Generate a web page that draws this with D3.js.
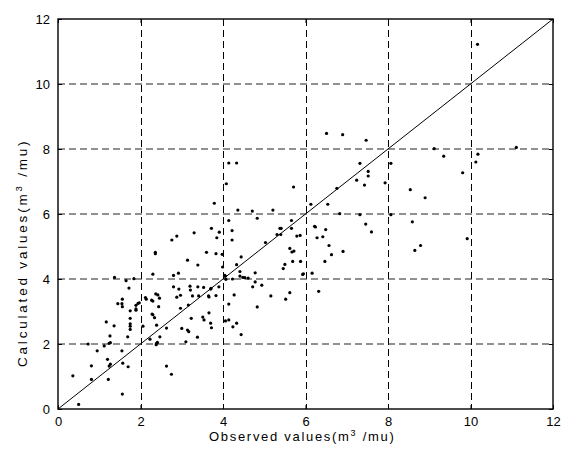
<!DOCTYPE html>
<html lang="en">
<head>
    <meta charset="UTF-8">
    <title>Observed vs calculated</title>
    <script src="https://d3js.org/d3.v7.min.js"></script>
    <style>
        body { margin: 0; background: #fff; }
        text { font-family: "Liberation Sans", Arial, sans-serif; fill: #000; }
    </style>
</head>
<body>
<script>
// tick values, same on both axes
const ticks = [0, 2, 4, 6, 8, 10, 12];

// observed (x) and calculated (y) values
const observed = [0.36,0.50,0.73,0.81,0.81,0.95,1.12,1.17,1.20,1.22,1.24,1.27,1.24,1.27,1.26,1.36,1.37,1.45,1.55,1.56,1.56,1.55,1.57,1.56,1.65,1.69,1.70,1.72,1.75,1.75,1.75,1.75,1.75,1.84,1.89,1.89,1.89,1.94,1.97,2.06,2.12,2.14,2.23,2.27,2.30,2.30,2.28,2.30,2.34,2.36,2.36,2.37,2.42,2.39,2.39,2.38,2.41,2.44,2.46,2.47,2.63,2.63,2.75,2.76,2.80,2.80,2.88,2.88,2.92,2.93,2.97,2.97,3.00,3.10,3.14,3.14,3.17,3.16,3.20,3.21,3.23,3.26,3.30,3.38,3.39,3.39,3.41,3.51,3.53,3.54,3.60,3.65,3.66,3.66,3.70,3.70,3.71,3.72,3.72,3.79,3.83,3.83,3.85,3.90,3.91,3.98,3.99,4.04,4.06,4.07,4.06,4.08,4.14,4.14,4.14,4.14,4.22,4.22,4.23,4.24,4.27,4.33,4.33,4.33,4.36,4.41,4.41,4.44,4.44,4.48,4.53,4.61,4.71,4.72,4.78,4.78,4.83,4.83,4.94,5.03,5.16,5.21,5.31,5.38,5.40,5.41,5.46,5.50,5.52,5.62,5.62,5.66,5.66,5.67,5.69,5.71,5.72,5.79,5.87,5.88,5.93,5.95,6.13,6.16,6.22,6.24,6.28,6.32,6.42,6.47,6.49,6.51,6.54,6.57,6.63,6.76,6.83,6.90,6.91,7.24,7.32,7.32,7.43,7.46,7.47,7.52,7.52,7.60,7.93,8.07,8.07,8.54,8.59,8.65,8.79,8.90,9.12,9.35,9.81,9.92,10.13,10.18,10.17,11.11];
const calculated = [1.02,0.14,2.00,1.33,0.91,1.79,1.94,2.68,1.53,0.91,1.32,1.38,2.02,2.04,2.25,2.56,4.05,3.24,3.24,3.38,3.15,1.79,1.41,0.46,3.95,2.22,1.30,3.72,3.02,2.79,2.62,2.55,2.45,4.01,3.19,3.08,3.04,3.25,3.27,2.55,3.43,3.38,2.15,3.35,3.32,4.15,2.92,2.90,2.81,4.82,4.78,3.54,3.51,2.58,2.02,1.98,2.05,3.15,3.41,2.22,2.49,1.32,1.07,5.20,4.11,3.76,5.32,3.44,4.18,3.69,3.50,3.10,2.48,2.07,4.58,2.43,2.38,3.20,3.78,3.66,2.79,3.48,5.42,2.21,4.43,3.76,3.48,2.83,3.74,2.74,4.82,3.48,3.45,2.96,2.64,3.69,3.71,5.56,2.50,6.33,4.78,3.49,5.27,3.76,5.44,4.76,4.37,4.11,4.09,3.99,2.71,6.93,7.57,5.80,3.23,2.74,5.49,5.20,4.00,2.53,3.51,7.57,4.44,2.64,6.12,4.23,4.09,4.68,2.29,4.05,4.04,4.03,6.09,3.76,4.19,3.91,5.87,3.14,3.81,5.12,3.48,6.12,5.37,5.56,5.37,5.56,4.32,4.45,3.38,4.94,3.58,5.80,5.56,4.83,4.54,6.83,4.86,5.32,5.34,4.54,4.14,4.16,6.30,4.18,5.62,5.60,5.27,3.62,5.30,4.54,5.52,8.48,6.30,5.03,4.75,6.79,6.01,8.44,4.85,7.04,7.56,5.98,6.89,5.69,8.27,7.31,7.17,5.45,6.96,7.56,5.98,6.75,5.76,4.88,5.03,6.50,8.01,7.78,7.27,5.24,7.60,7.84,11.22,8.05];

// 1:1 reference line
const diagonal = [0, 12];

const W = 561, H = 456;
const margin = {top: 19, right: 8, bottom: 47, left: 58};
const width = W - margin.left - margin.right;
const height = H - margin.top - margin.bottom;

const svg = d3.select("body").append("svg")
    .attr("width", W)
    .attr("height", H);

const g = svg.append("g")
    .attr("transform", `translate(${margin.left},${margin.top})`);

const x = d3.scaleLinear().domain([0, 12]).range([0, width]);
const y = d3.scaleLinear().domain([0, 12]).range([height, 0]);

// grid (skip the box edges)
const inner = ticks.slice(1, -1);
g.selectAll(".vgrid").data(inner).enter().append("line")
    .attr("x1", d => Math.round(x(d)) + 0.5).attr("x2", d => Math.round(x(d)) + 0.5)
    .attr("y1", 0).attr("y2", height)
    .attr("stroke", "#000").attr("stroke-width", 1)
    .attr("stroke-dasharray", "7,4");
g.selectAll(".hgrid").data(inner).enter().append("line")
    .attr("x1", 0).attr("x2", width)
    .attr("y1", d => y(d)).attr("y2", d => y(d))
    .attr("stroke", "#222").attr("stroke-width", 1)
    .attr("stroke-dasharray", "7,4");

// diagonal
g.append("line")
    .attr("x1", x(diagonal[0])).attr("y1", y(diagonal[0]))
    .attr("x2", x(diagonal[1])).attr("y2", y(diagonal[1]))
    .attr("stroke", "#000").attr("stroke-width", 1);

// points
g.selectAll(".dot").data(observed).enter().append("circle")
    .attr("class", "dot")
    .attr("cx", d => x(d))
    .attr("cy", (d, i) => y(calculated[i]))
    .attr("r", 1.6)
    .attr("fill", "#000");

// box
g.append("rect")
    .attr("x", 0).attr("y", 0)
    .attr("width", width).attr("height", height)
    .attr("fill", "none").attr("stroke", "#000").attr("stroke-width", 1.4);

// axes with inward ticks, also mirrored on top and right
const tickLen = 4;
g.append("g").attr("transform", `translate(0,${height})`)
    .call(d3.axisBottom(x).tickValues(ticks).tickSizeInner(-tickLen).tickSizeOuter(0).tickPadding(8))
    .call(a => a.select(".domain").remove());
g.append("g")
    .call(d3.axisLeft(y).tickValues(ticks).tickSizeInner(-tickLen).tickSizeOuter(0).tickPadding(8))
    .call(a => a.select(".domain").remove());
g.append("g")
    .call(d3.axisTop(x).tickValues(ticks).tickSizeInner(-tickLen).tickSizeOuter(0).tickFormat(""))
    .call(a => a.select(".domain").remove());
g.append("g").attr("transform", `translate(${width},0)`)
    .call(d3.axisRight(y).tickValues(ticks).tickSizeInner(-tickLen).tickSizeOuter(0).tickFormat(""))
    .call(a => a.select(".domain").remove());

g.selectAll(".tick text").attr("fill", "#000")
    .style("font-size", "13px").style("font-family", "Liberation Sans, Arial, sans-serif");
g.selectAll(".tick line").attr("stroke", "#000");

// axis labels with superscript (the source renders them with wide spacing)
const xl = svg.append("text")
    .attr("x", 209)
    .attr("y", 441)
    .style("font-size", "13px")
    .style("letter-spacing", "1.7px");
xl.append("tspan").text("Observed values(m");
xl.append("tspan").attr("dy", -5).style("font-size", "9px").text("3");
xl.append("tspan").attr("dy", 5).text(" /mu)");

const yl = svg.append("text")
    .attr("transform", "translate(27,367) rotate(-90)")
    .style("font-size", "13.5px")
    .style("letter-spacing", "2.8px");
yl.append("tspan").text("Calculated values(m");
yl.append("tspan").attr("dy", -5).style("font-size", "9.5px").text("3");
yl.append("tspan").attr("dy", 5).text(" /mu)");
</script>
</body>
</html>
